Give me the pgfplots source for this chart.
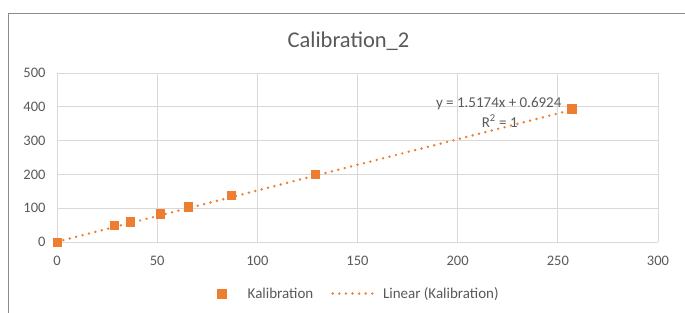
\documentclass[border=0pt]{standalone}
\usepackage{pgfplots}
\pgfplotsset{compat=1.18}
\usepackage{fontspec}
\setmainfont{Carlito}
\definecolor{xlorange}{HTML}{ED7D31}
\definecolor{xltext}{HTML}{595959}
\definecolor{xlgrid}{HTML}{D9D9D9}
\pgfplotsset{longline legend/.style={legend image code/.code={\draw[##1] (0pt,0pt) -- (42pt,0pt);}}}
\begin{document}
\begin{tikzpicture}[x=1pt,y=1pt]
\path[use as bounding box] (-57,-71) rectangle (628,242);
\draw[color=black!45,line width=0.8pt] (-49,-71) -- (-49,229) -- (628,229);
\begin{axis}[
  at={(0,0)}, anchor=south west,
  scale only axis, width=601pt, height=169pt,
  xmin=0, xmax=300, ymin=0, ymax=500,
  xtick={0,50,...,300}, ytick={0,100,...,500},
  grid=major, major grid style={color=xlgrid, line width=0.8pt},
  axis line style={draw=none},
  axis x line*=bottom, axis y line*=left,
  tick style={draw=none},
  tick label style={font=\fontsize{14.5}{16}\selectfont, text=xltext},
  /pgf/number format/assume math mode=true,
  xticklabel style={yshift=-11pt},
  yticklabel style={xshift=-8pt},
  title={Calibration\_2},
  title style={font=\fontsize{22.5}{25}\selectfont, text=xltext, at={(0.5,1)}, anchor=center, yshift=26pt, xshift=-9pt},
  legend style={at={(0.5025,-0.305)}, anchor=center, draw=none, font=\fontsize{15}{17}\selectfont, text=xltext, legend columns=2,
    /tikz/every even column/.append style={column sep=16pt}},
  legend cell align=left,
  clip=false,
]
\addplot[only marks, mark=square*, mark size=4.2pt, color=xlorange] coordinates {
(0,0) (28.5,50) (36.5,60) (51.5,84) (65.5,104) (87,138) (129,200) (257,394)
};
\addlegendentry{\hspace{20pt}Kalibration}
\addplot[color=xlorange, line width=2.7pt, line cap=round, dash pattern=on 0pt off 6.6pt, longline legend] coordinates {
(0,0.6924) (257,390.66)
};
\addlegendentry{\hspace{5pt}Linear (Kalibration)}
\node[font=\fontsize{15}{17}\selectfont, text=xltext, inner sep=0pt] at (axis cs:220.5,408) {y = 1.5174x + 0.6924};
\node[font=\fontsize{15}{17}\selectfont, text=xltext, inner sep=0pt] at (axis cs:221,358) {R\textsuperscript{2} = 1};
\end{axis}
\end{tikzpicture}
\end{document}
